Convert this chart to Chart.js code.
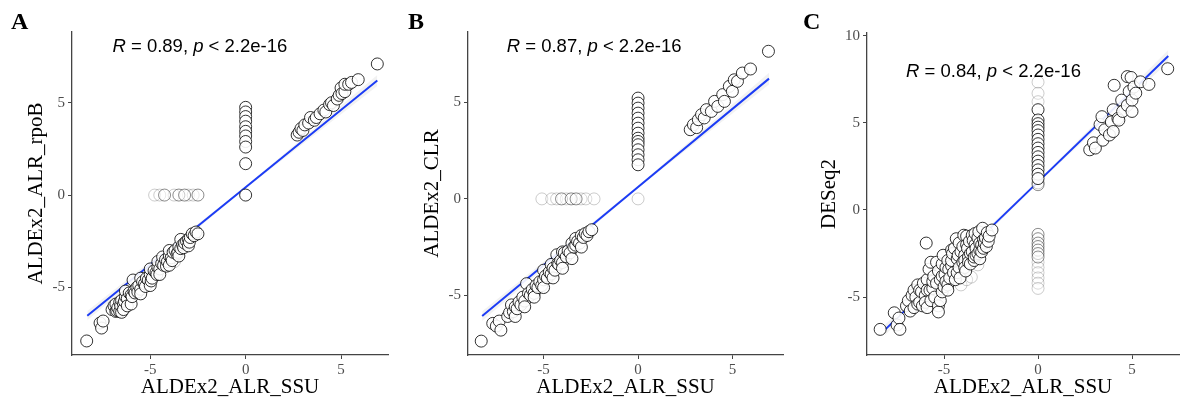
<!DOCTYPE html>
<html>
<head>
<meta charset="utf-8">
<script src="https://cdn.jsdelivr.net/npm/chart.js@4.4.0/dist/chart.umd.min.js"></script>
<style>
  body { margin: 0; background: #fff; }
  canvas.panel { position: absolute; top: 0; }
</style>
</head>
<body>
<canvas id="chartA" class="panel" width="395" height="401" style="left:0px"></canvas>
<canvas id="chartB" class="panel" width="395" height="401" style="left:395px"></canvas>
<canvas id="chartC" class="panel" width="396" height="401" style="left:790px"></canvas>
<script>
// axis text
var xTitle = 'ALDEx2_ALR_SSU';
var yTitles = ['ALDEx2_ALR_rpoB', 'ALDEx2_CLR', 'DESeq2'];
var panelTags = ['A', 'B', 'C'];
var corrR = ['0.89', '0.87', '0.84'];
var pText = '2.2e-16';
var xTicks = [-5, 0, 5];
var yTicksAB = [-5, 0, 5];
var yTicksC = [-5, 0, 5, 10];

// --- A: ALDEx2_ALR_rpoB ---
var aSolid = [
  [-8.33,-7.9],[-7.63,-6.93],[-7.55,-7.2],[-7.47,-6.82],
  [-7.0,-6.2],[-6.9,-6.0],[-6.8,-6.3],[-6.8,-5.9],[-6.75,-6.25],[-6.7,-6.1],[-6.6,-5.8],[-6.6,-6.3],[-6.55,-6.0],
  [-6.5,-5.7],[-6.5,-6.35],[-6.4,-5.9],[-6.4,-6.2],[-6.35,-5.75],[-6.3,-5.5],[-6.3,-5.2],[-6.2,-5.6],[-6.2,-6.0],
  [-6.1,-5.3],[-6.0,-5.4],[-6.0,-5.9],[-5.95,-5.5],[-5.9,-4.6],[-5.85,-5.2],[-5.8,-5.3],[-5.7,-5.0],[-5.65,-5.25],
  [-5.6,-4.9],[-5.5,-5.1],[-5.5,-4.5],[-5.5,-5.35],[-5.4,-4.7],[-5.3,-4.8],[-5.25,-4.95],[-5.2,-4.5],[-5.1,-4.6],
  [-5.0,-4.3],[-5.0,-4.0],[-5.0,-4.9],[-4.95,-4.65],[-4.9,-4.5],[-4.8,-4.1],[-4.7,-4.2],[-4.65,-4.3],[-4.6,-3.9],
  [-4.6,-3.6],[-4.5,-4.0],[-4.5,-4.3],[-4.4,-3.7],[-4.35,-3.35],[-4.3,-3.8],[-4.2,-3.5],[-4.15,-3.85],[-4.1,-3.6],
  [-4.0,-3.3],[-4.0,-3.0],[-4.0,-3.8],[-3.9,-3.4],[-3.85,-3.55],[-3.8,-3.1],[-3.7,-3.0],[-3.6,-3.2],[-3.55,-3.1],
  [-3.5,-2.8],[-3.5,-3.3],[-3.4,-2.9],[-3.4,-2.4],[-3.3,-2.7],[-3.25,-2.85],[-3.2,-2.6],[-3.1,-2.5],[-3.0,-2.4],
  [-3.0,-2.75],[-2.95,-2.55],[-2.9,-2.3],[-2.8,-2.1],[-2.7,-2.2],[-2.6,-2.0],[-2.5,-2.1],
  [0,4.75],[0,4.5],[0,4.25],[0,4.0],[0,3.7],[0,3.45],[0,3.2],[0,2.9],[0,2.6],[0,1.7],[0,0],
  [2.7,3.25],[2.8,3.4],[2.9,3.6],[3.0,3.5],[3.1,3.8],[3.3,3.9],[3.4,4.2],[3.6,4.05],[3.7,4.2],[3.9,4.4],
  [4.1,4.6],[4.2,4.5],[4.4,4.9],[4.5,5.0],[4.6,4.85],[4.8,5.2],[4.9,5.4],[5.0,5.8],[5.05,5.5],[5.2,5.6],
  [5.2,6.0],[5.4,6.0],[5.55,6.1],[5.9,6.25],[6.9,7.1]
];
var aMid = [[-4.25,0],[-3.5,0],[-3.2,0],[-2.5,0]];
var aFaint = [[-4.77,0],[-4.5,0],[-3.75,0],[-3.0,0],[-2.75,0],[-3.73,-3.6]];
var aFitX = [-8.3, 0, 6.9];
var aFitY = [-6.53, 0.42, 6.2];
var aFitSE = [0.25, 0.06, 0.3];

// --- B: ALDEx2_CLR ---
var bSolid = [
  [-8.3,-7.38],[-7.69,-6.46],[-7.5,-6.6],[-7.35,-6.34],[-7.26,-6.81],
  [-6.9,-6.1],[-6.8,-5.9],[-6.7,-5.5],[-6.6,-5.85],[-6.5,-5.6],[-6.5,-6.1],[-6.4,-5.7],[-6.3,-5.35],[-6.2,-5.5],
  [-6.1,-5.1],[-6.0,-5.3],[-6.0,-5.6],[-5.9,-4.4],[-5.8,-4.9],[-5.7,-5.0],[-5.6,-4.7],[-5.5,-4.9],[-5.5,-5.1],
  [-5.4,-4.5],[-5.3,-4.6],[-5.2,-4.3],[-5.1,-4.5],[-5.0,-4.2],[-5.0,-3.7],[-5.0,-4.6],[-4.9,-4.0],[-4.8,-4.1],
  [-4.7,-3.8],[-4.6,-3.9],[-4.6,-3.4],[-4.5,-3.6],[-4.5,-4.1],[-4.4,-3.7],[-4.3,-2.9],[-4.25,-3.35],[-4.2,-3.4],
  [-4.1,-3.2],[-4.0,-3.3],[-4.0,-2.75],[-4.0,-3.6],[-3.9,-2.8],[-3.8,-3.0],[-3.7,-2.7],[-3.6,-2.8],[-3.5,-2.3],
  [-3.5,-3.1],[-3.4,-2.5],[-3.3,-2.4],[-3.3,-2.05],[-3.2,-2.2],[-3.1,-2.3],[-3.0,-1.9],[-3.0,-2.5],[-2.9,-2.0],
  [-2.8,-1.8],[-2.7,-1.9],[-2.6,-1.7],[-2.45,-1.6],
  [0,5.23],[0,4.97],[0,4.71],[0,4.45],[0,4.19],[0,3.93],[0,3.67],[0,3.41],[0,3.15],[0,2.98],[0,2.81],[0,2.55],
  [0,2.29],[0,2.03],[0,1.77],
  [2.76,3.59],[2.93,3.85],[3.1,3.7],[3.19,4.11],[3.36,4.37],[3.5,4.2],[3.62,4.63],[3.88,4.54],[4.05,5.06],
  [4.22,4.8],[4.48,5.41],[4.57,5.06],[4.83,5.84],[4.99,5.58],[5.09,6.18],[5.26,6.1],[5.52,6.53],[5.95,6.74],[6.9,7.66]
];
var bMid = [[-4.05,0],[-3.54,0],[-3.28,0]];
var bFaint = [[-5.09,0],[-4.57,0],[-4.31,0],[-3.8,0],[-3.02,0],[-2.76,0],[-2.33,0],[0,0]];
var bFitX = [-8.25, 0, 6.93];
var bFitY = [-6.08, 0.62, 6.24];
var bFitSE = [0.25, 0.06, 0.3];

// --- C: DESeq2 ---
var cSolid = [
  [-8.4,-6.85],[-7.65,-5.9],[-7.5,-6.6],[-7.4,-6.2],[-7.35,-6.85],[-7.0,-5.5],[-6.9,-5.2],[-6.8,-5.8],[-6.7,-4.9],
  [-6.6,-5.6],[-6.6,-4.6],[-6.5,-5.0],[-6.4,-4.3],[-6.4,-5.4],[-6.3,-5.3],[-6.3,-4.6],[-6.2,-4.7],[-6.15,-5.5],
  [-6.1,-4.2],[-6.0,-4.9],[-6.0,-5.3],[-5.95,-1.9],[-5.9,-4.0],[-5.9,-4.6],[-5.9,-5.6],[-5.8,-3.4],[-5.75,-4.6],
  [-5.7,-5.2],[-5.7,-3.0],[-5.6,-4.5],[-5.6,-4.1],[-5.55,-3.8],[-5.5,-5.0],[-5.4,-4.2],[-5.4,-3.0],[-5.3,-5.5],
  [-5.3,-5.85],[-5.3,-3.5],[-5.2,-4.0],[-5.2,-5.2],[-5.1,-3.1],[-5.1,-3.8],[-5.1,-4.7],[-5.05,-2.6],[-5.0,-4.4],
  [-4.95,-3.7],[-4.9,-4.1],[-4.9,-3.3],[-4.8,-2.9],[-4.8,-4.3],[-4.8,-4.6],[-4.75,-3.4],[-4.7,-3.9],[-4.6,-3.2],
  [-4.6,-2.9],[-4.6,-2.3],[-4.55,-2.5],[-4.5,-3.6],[-4.45,-2.2],[-4.4,-4.0],[-4.35,-1.65],[-4.3,-2.8],[-4.3,-3.6],
  [-4.25,-2.6],[-4.2,-3.3],[-4.2,-1.9],[-4.15,-3.9],[-4.1,-2.4],[-4.0,-3.0],[-4.0,-2.1],[-3.95,-1.45],[-3.9,-2.6],
  [-3.9,-2.9],[-3.9,-3.3],[-3.85,-3.5],[-3.8,-2.0],[-3.8,-1.5],[-3.75,-2.2],[-3.7,-2.7],[-3.7,-3.0],[-3.65,-1.8],
  [-3.6,-3.1],[-3.6,-2.5],[-3.5,-1.45],[-3.5,-2.4],[-3.45,-1.75],[-3.4,-2.9],[-3.4,-2.7],[-3.35,-2.0],[-3.35,-1.35],
  [-3.3,-2.6],[-3.3,-2.2],[-3.2,-1.6],[-3.2,-2.5],[-3.15,-1.25],[-3.1,-2.3],[-3.1,-2.8],[-3.1,-1.9],[-3.0,-2.0],
  [-3.0,-2.4],[-2.95,-1.05],[-2.9,-1.7],[-2.9,-2.2],[-2.85,-1.9],[-2.8,-1.6],[-2.75,-2.1],[-2.7,-1.3],[-2.65,-1.8],
  [-2.6,-1.5],[-2.45,-1.15],
  [0,5.75],[0,5.16],[0,4.95],[0,4.75],[0,4.55],[0,4.3],[0,4.05],[0,3.8],[0,3.55],[0,3.3],[0,3.05],[0,2.8],
  [0,2.55],[0,2.3],[0,2.05],[0,1.8],
  [2.75,3.45],[2.95,3.85],[3.05,3.55],[3.3,4.9],[3.4,5.35],[3.45,4.0],[3.55,4.6],[3.8,4.3],[3.9,5.05],[4.0,4.5],
  [4.0,5.75],[4.05,7.15],[4.25,5.25],[4.3,5.15],[4.45,6.3],[4.5,5.65],[4.75,6.0],[4.75,7.65],[4.85,6.8],[4.95,7.6],
  [5.0,5.65],[5.0,6.3],[5.1,7.05],[5.2,6.7],[5.45,7.35],[5.9,7.2],[6.9,8.1]
];
var cMid = [[0,1.55],[0,1.45],[0,-1.4],[0,-1.65],[0,-1.9],[0,-2.1],[0,-2.3],[0,-2.5],[0,-2.7]];
var cFaint = [[0,7.33],[0,6.69],[0,6.21],[0,-3.0],[0,-3.3],[0,-3.6],[0,-3.9],[0,-4.2],[0,-4.5],
  [-4.1,-4.3],[-3.8,-4.0],[-3.55,-3.85],[-3.2,-3.15]];
var cFitX = [-8.15, 0, 6.93];
var cFitY = [-6.88, 1.61, 8.83];
var cFitSE = [0.3, 0.08, 0.35];

var serif = '"Liberation Serif", "Times New Roman", serif';
var sans = '"Liberation Sans", Arial, sans-serif';

// R / p annotation plus the panel letter
var statsLabel = {
  id: 'statsLabel',
  afterDraw: function (chart, args, o) {
    var ctx = chart.ctx;
    var x = chart.scales.x.getPixelForValue(o.at[0]);
    var y = chart.scales.y.getPixelForValue(o.at[1]);
    var parts = [['R', true], [' = ' + o.r + ', ', false], ['p', true], [' < ' + pText, false]];
    ctx.save();
    ctx.fillStyle = '#000';
    ctx.textBaseline = 'alphabetic';
    ctx.textAlign = 'left';
    for (var i = 0; i < parts.length; i++) {
      ctx.font = (parts[i][1] ? 'italic ' : '') + '18.5px ' + sans;
      ctx.fillText(parts[i][0], x, y);
      x += ctx.measureText(parts[i][0]).width;
    }
    ctx.font = 'bold 24px ' + serif;
    ctx.fillText(o.tag, o.tagX, 29);
    ctx.restore();
  }
};

function toXY(list) {
  return list.map(function (d) { return {x: d[0], y: d[1]}; });
}

function pointSet(list, a) {
  return {
    data: toXY(list),
    pointRadius: 6,
    pointBorderWidth: 1,
    borderColor: 'rgba(0,0,0,' + a + ')',
    backgroundColor: 'rgba(255,255,255,' + Math.min(1, a + 0.1) + ')'
  };
}

function makePanel(id, p) {
  var fit = p.fitX.map(function (x, i) { return {x: x, y: p.fitY[i]}; });
  var upper = p.fitX.map(function (x, i) { return {x: x, y: p.fitY[i] + p.fitSE[i]}; });
  var lower = p.fitX.map(function (x, i) { return {x: x, y: p.fitY[i] - p.fitSE[i]}; });

  new Chart(document.getElementById(id), {
    type: 'scatter',
    data: {
      datasets: [
        pointSet(p.solid, 0.8),
        pointSet(p.mid, 0.45),
        pointSet(p.faint, 0.2),
        { data: fit, showLine: true, pointRadius: 0, borderColor: '#1c3cf5', borderWidth: 2 },
        { data: upper, showLine: true, pointRadius: 0, borderColor: 'rgba(0,0,0,0)', fill: '+1',
          backgroundColor: 'rgba(170,170,170,0.15)' },
        { data: lower, showLine: true, pointRadius: 0, borderColor: 'rgba(0,0,0,0)' }
      ]
    },
    options: {
      responsive: false,
      animation: false,
      layout: { padding: { left: 0, right: p.padRight, top: p.top, bottom: 0 } },
      plugins: {
        legend: { display: false },
        tooltip: { enabled: false },
        statsLabel: { at: p.statAt, r: p.r, tag: p.tag, tagX: p.tagX }
      },
      scales: {
        x: {
          type: 'linear', min: p.xMin, max: p.xMax,
          afterBuildTicks: function (s) { s.ticks = xTicks.map(function (v) { return {value: v}; }); },
          afterFit: function (s) { s.height = 46; },
          grid: { drawOnChartArea: false, tickLength: 4, color: '#444' },
          border: { color: '#444', width: 1.3 },
          ticks: { color: '#4d4d4d', font: { family: serif, size: 15 }, padding: 2,
                   callback: function (v) { return String(v); } },
          title: { display: true, text: xTitle, color: '#000', font: { family: serif, size: 21 },
                   padding: { top: 0, bottom: 1 } }
        },
        y: {
          type: 'linear', min: p.yMin, max: p.yMax,
          afterBuildTicks: function (s) { s.ticks = p.yTicks.map(function (v) { return {value: v}; }); },
          afterFit: function (s) { s.width = p.yWidth; },
          grid: { drawOnChartArea: false, tickLength: 4, color: '#444' },
          border: { color: '#444', width: 1.3 },
          ticks: { color: '#4d4d4d', font: { family: serif, size: 15 }, padding: 3,
                   callback: function (v) { return String(v); } },
          title: { display: true, text: p.yTitle, color: '#000', font: { family: serif, size: 21 },
                   padding: { top: p.yTitlePad, bottom: 0 } }
        }
      }
    },
    plugins: [statsLabel]
  });
}

makePanel('chartA', {
  solid: aSolid, mid: aMid, faint: aFaint, fitX: aFitX, fitY: aFitY, fitSE: aFitSE,
  xMin: -9.1, xMax: 7.46, yMin: -8.66, yMax: 8.83, yTicks: yTicksAB,
  yTitle: yTitles[0], r: corrR[0], tag: panelTags[0], tagX: 11, statAt: [-6.98, 7.76],
  top: 32, padRight: 5, yWidth: 72, yTitlePad: 24
});
makePanel('chartB', {
  solid: bSolid, mid: bMid, faint: bFaint, fitX: bFitX, fitY: bFitY, fitSE: bFitSE,
  xMin: -9.0, xMax: 7.67, yMin: -8.1, yMax: 8.66, yTicks: yTicksAB,
  yTitle: yTitles[1], r: corrR[1], tag: panelTags[1], tagX: 13, statAt: [-6.95, 7.6],
  top: 32, padRight: 0, yWidth: 73, yTitlePad: 25
});
makePanel('chartC', {
  solid: cSolid, mid: cMid, faint: cFaint, fitX: cFitX, fitY: cFitY, fitSE: cFitSE,
  xMin: -9.1, xMax: 7.5, yMin: -8.32, yMax: 10.15, yTicks: yTicksC,
  yTitle: yTitles[2], r: corrR[2], tag: panelTags[2], tagX: 13, statAt: [-7.02, 7.65],
  top: 33, padRight: 0, yWidth: 77, yTitlePad: 27
});
</script>
</body>
</html>
